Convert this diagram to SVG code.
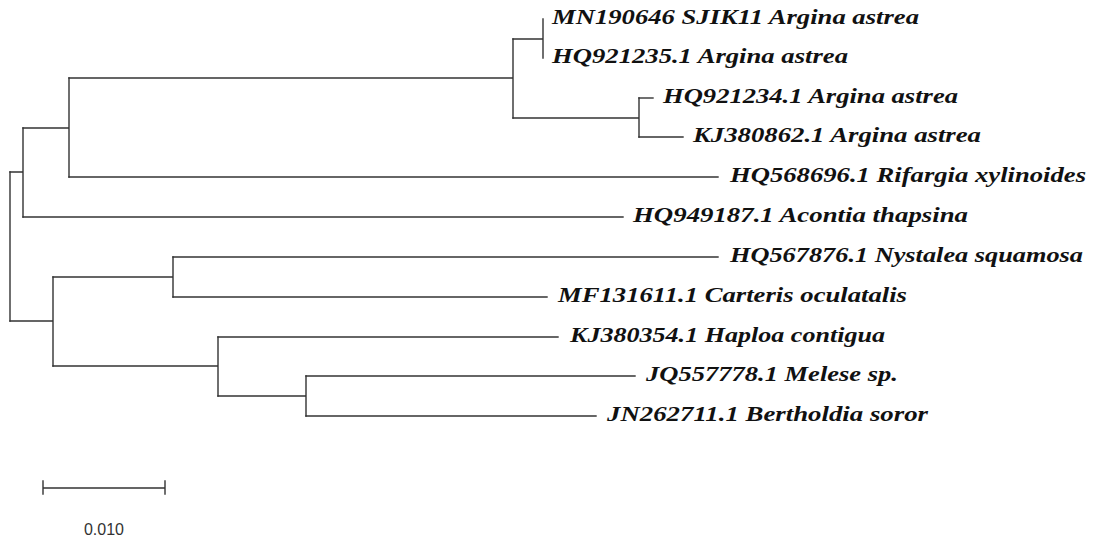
<svg xmlns="http://www.w3.org/2000/svg" width="1096" height="539" viewBox="0 0 1096 539">
<style>
.br{fill:none;stroke:#333;stroke-width:1.4;stroke-linecap:square}
.lb{font-family:"Liberation Serif","Times New Roman",serif;font-weight:bold;font-style:italic;font-size:22px;fill:#111}
.sc{font-family:"Liberation Sans",Arial,sans-serif;font-size:16px;fill:#333}
</style>
<rect width="1096" height="539" fill="#fff"/>
<g id="connectors" class="br">
<path d="M10,172 V321"/>
<path d="M10,172 H23 M23,128 V217"/>
<path d="M23,128 H69 M69,78 V177"/>
<path d="M69,78 H513 M513,39 V118"/>
<path d="M513,39 H543 M543,19 V58"/>
<path d="M513,118 H639 M639,98 V137"/>
<path d="M639,98 H653"/>
<path d="M639,137 H683"/>
<path d="M69,177 H718"/>
<path d="M23,217 H623"/>
<path d="M10,321 H53 M53,277 V366"/>
<path d="M53,277 H173 M173,257 V297"/>
<path d="M173,257 H718"/>
<path d="M173,297 H547"/>
<path d="M53,366 H218 M218,337 V396"/>
<path d="M218,337 H558"/>
<path d="M218,396 H306 M306,376 V416"/>
<path d="M306,376 H635"/>
<path d="M306,416 H596"/>
</g>
<g id="leaf-MN190646"><text class="lb" x="552" y="24" textLength="367" lengthAdjust="spacingAndGlyphs">MN190646 SJIK11 Argina astrea</text></g>
<g id="leaf-HQ921235"><text class="lb" x="552" y="63" textLength="296" lengthAdjust="spacingAndGlyphs">HQ921235.1 Argina astrea</text></g>
<g id="leaf-HQ921234"><text class="lb" x="663" y="103" textLength="295" lengthAdjust="spacingAndGlyphs">HQ921234.1 Argina astrea</text></g>
<g id="leaf-KJ380862"><text class="lb" x="693" y="142" textLength="288" lengthAdjust="spacingAndGlyphs">KJ380862.1 Argina astrea</text></g>
<g id="leaf-HQ568696"><text class="lb" x="730" y="182" textLength="356" lengthAdjust="spacingAndGlyphs">HQ568696.1 Rifargia xylinoides</text></g>
<g id="leaf-HQ949187"><text class="lb" x="633" y="222" textLength="335" lengthAdjust="spacingAndGlyphs">HQ949187.1 Acontia thapsina</text></g>
<g id="leaf-HQ567876"><text class="lb" x="730" y="262" textLength="353" lengthAdjust="spacingAndGlyphs">HQ567876.1 Nystalea squamosa</text></g>
<g id="leaf-MF131611"><text class="lb" x="558" y="302" textLength="349" lengthAdjust="spacingAndGlyphs">MF131611.1 Carteris oculatalis</text></g>
<g id="leaf-KJ380354"><text class="lb" x="570" y="342" textLength="315" lengthAdjust="spacingAndGlyphs">KJ380354.1 Haploa contigua</text></g>
<g id="leaf-JQ557778"><text class="lb" x="646" y="381" textLength="252" lengthAdjust="spacingAndGlyphs">JQ557778.1 Melese sp.</text></g>
<g id="leaf-JN262711"><text class="lb" x="607" y="421" textLength="321" lengthAdjust="spacingAndGlyphs">JN262711.1 Bertholdia soror</text></g>
<g id="scale-bar">
<path class="br" d="M43,488 H165 M43,481 V494 M165,481 V494"/>
<text class="sc" x="104" y="535" text-anchor="middle">0.010</text>
</g>
</svg>
